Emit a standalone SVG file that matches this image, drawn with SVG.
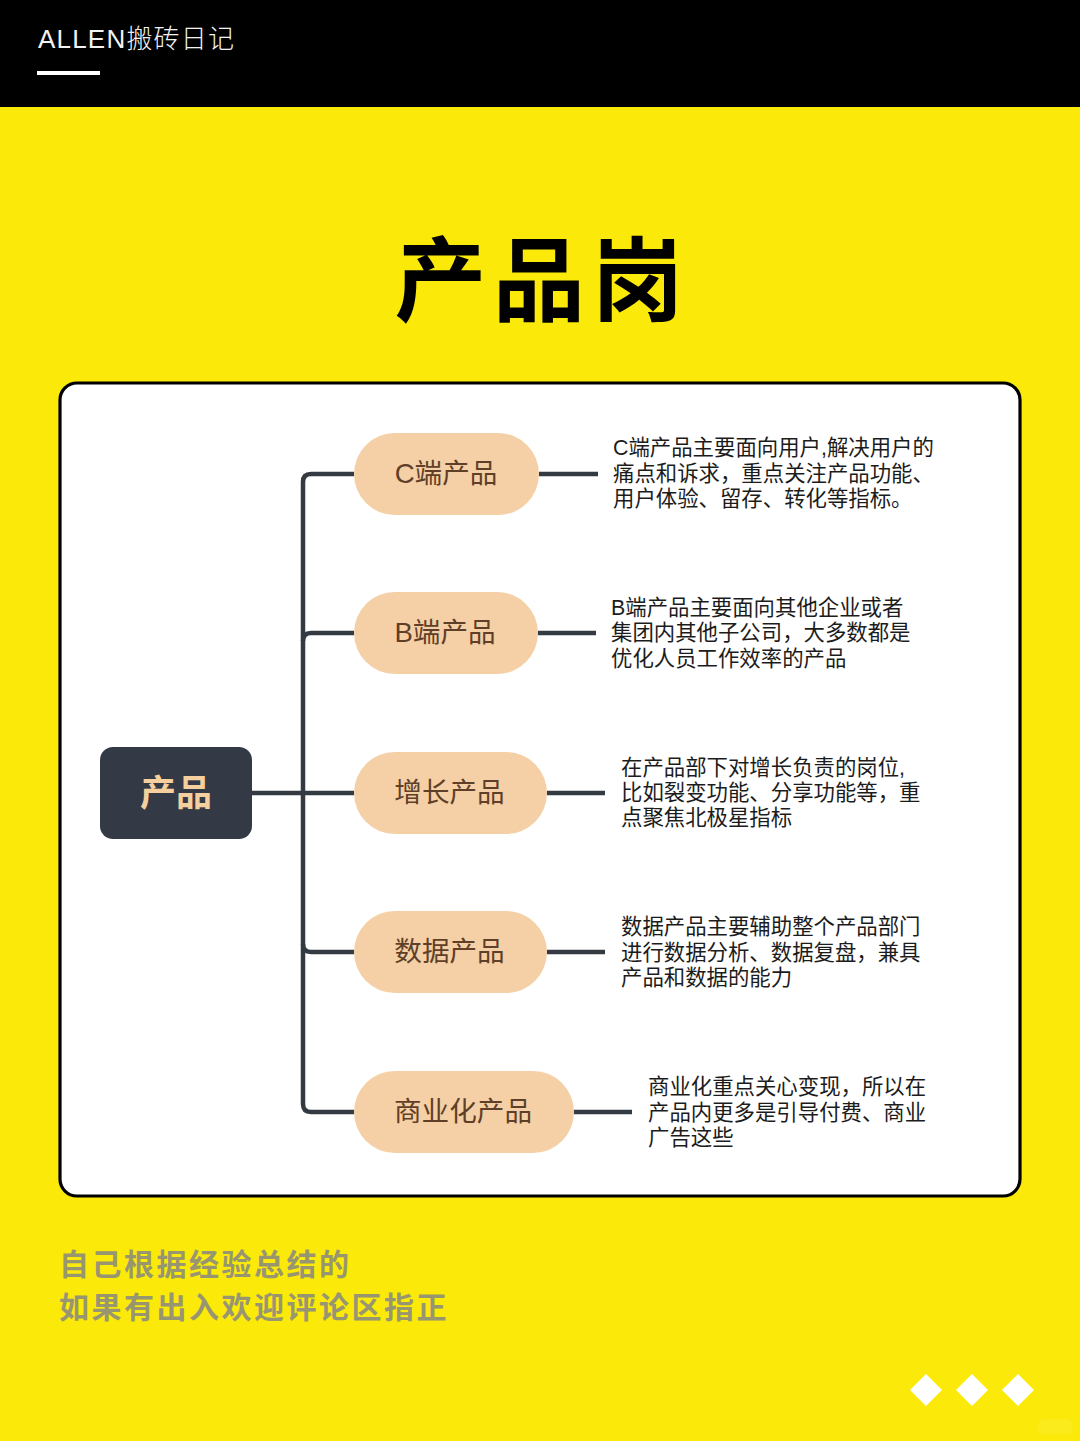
<svg xmlns="http://www.w3.org/2000/svg" width="1080" height="1443" viewBox="0 0 1080 1443">
<style>
text{font-family:"Liberation Sans","Noto Sans CJK SC",sans-serif}
.pill{fill:#f5d0a6}
.pt{font-size:27.6px;fill:#5f3f28}
.d{font-size:21.4px;fill:#1c1c1c}
.c{fill:none;stroke:#343a42;stroke-width:4.5}
.foot{font-size:30px;font-weight:700;fill:#989670;letter-spacing:2.5px}
.dm{fill:#fff}
</style>
<rect width="1080" height="1443" fill="#fbe909"/>
<rect width="1080" height="107" fill="#000"/>
<rect y="1441" width="1080" height="2" fill="#fff"/>
<rect x="1037" y="1419" width="36" height="15" rx="7" fill="#fbea1c"/>
<text x="38" y="48" font-size="26" fill="#f2f2f2" letter-spacing="1.2" style="font-weight:300">ALLEN搬砖日记</text>
<rect x="37" y="71" width="63" height="4" fill="#fff"/>
<text x="394.500" y="314" font-size="92" font-weight="700" fill="#000" letter-spacing="6.5">产品岗</text>
<rect x="60" y="383" width="960" height="813" rx="17" fill="#fff" stroke="#000" stroke-width="3.2"/>
<g id="connectors">
<path class="c" d="M252 793H354"/>
<path class="c" d="M354 474H311Q303 474 303 482V1104Q303 1112 311 1112H354"/>
<path class="c" d="M303 641Q303 633 311 633H354"/>
<path class="c" d="M303 944Q303 952 311 952H354"/>
<path class="c" d="M539 474H598"/>
<path class="c" d="M538 633H596"/>
<path class="c" d="M547 793H605"/>
<path class="c" d="M547 952H605"/>
<path class="c" d="M574 1112H632"/>
</g>
<g id="root"><rect x="100" y="747" width="152" height="92" rx="13" fill="#343a45"/><text x="176" y="806" font-size="36" font-weight="700" fill="#f6cf9f" text-anchor="middle">产品</text></g>
<g id="n1"><rect class="pill" x="354" y="433" width="185" height="82" rx="41"/><text class="pt" x="446" y="483" text-anchor="middle">C端产品</text>
<text class="d" x="613" y="455">C端产品主要面向用户,解决用户的</text><text class="d" x="613" y="481">痛点和诉求，重点关注产品功能、</text><text class="d" x="613" y="506">用户体验、留存、转化等指标。</text></g>
<g id="n2"><rect class="pill" x="354" y="592" width="184" height="82" rx="41"/><text class="pt" x="445" y="642" text-anchor="middle">B端产品</text>
<text class="d" x="611" y="615">B端产品主要面向其他企业或者</text><text class="d" x="611" y="640">集团内其他子公司，大多数都是</text><text class="d" x="611" y="666">优化人员工作效率的产品</text></g>
<g id="n3"><rect class="pill" x="354" y="752" width="193" height="82" rx="41"/><text class="pt" x="449.500" y="802" text-anchor="middle">增长产品</text>
<text class="d" x="621" y="775">在产品部下对增长负责的岗位,</text><text class="d" x="621" y="800">比如裂变功能、分享功能等，重</text><text class="d" x="621" y="825">点聚焦北极星指标</text></g>
<g id="n4"><rect class="pill" x="354" y="911" width="193" height="82" rx="41"/><text class="pt" x="449.500" y="961" text-anchor="middle">数据产品</text>
<text class="d" x="621" y="934">数据产品主要辅助整个产品部门</text><text class="d" x="621" y="960">进行数据分析、数据复盘，兼具</text><text class="d" x="621" y="985">产品和数据的能力</text></g>
<g id="n5"><rect class="pill" x="354" y="1071" width="220" height="82" rx="41"/><text class="pt" x="463" y="1121" text-anchor="middle">商业化产品</text>
<text class="d" x="648" y="1094">商业化重点关心变现，所以在</text><text class="d" x="648" y="1120">产品内更多是引导付费、商业</text><text class="d" x="648" y="1145">广告这些</text></g>
<text class="foot" x="59" y="1275">自己根据经验总结的</text>
<text class="foot" x="59" y="1318">如果有出入欢迎评论区指正</text>
<path class="dm" d="M926 1374L942 1390L926 1406L910 1390Z"/>
<path class="dm" d="M972 1374L988 1390L972 1406L956 1390Z"/>
<path class="dm" d="M1018 1374L1034 1390L1018 1406L1002 1390Z"/>
</svg>
